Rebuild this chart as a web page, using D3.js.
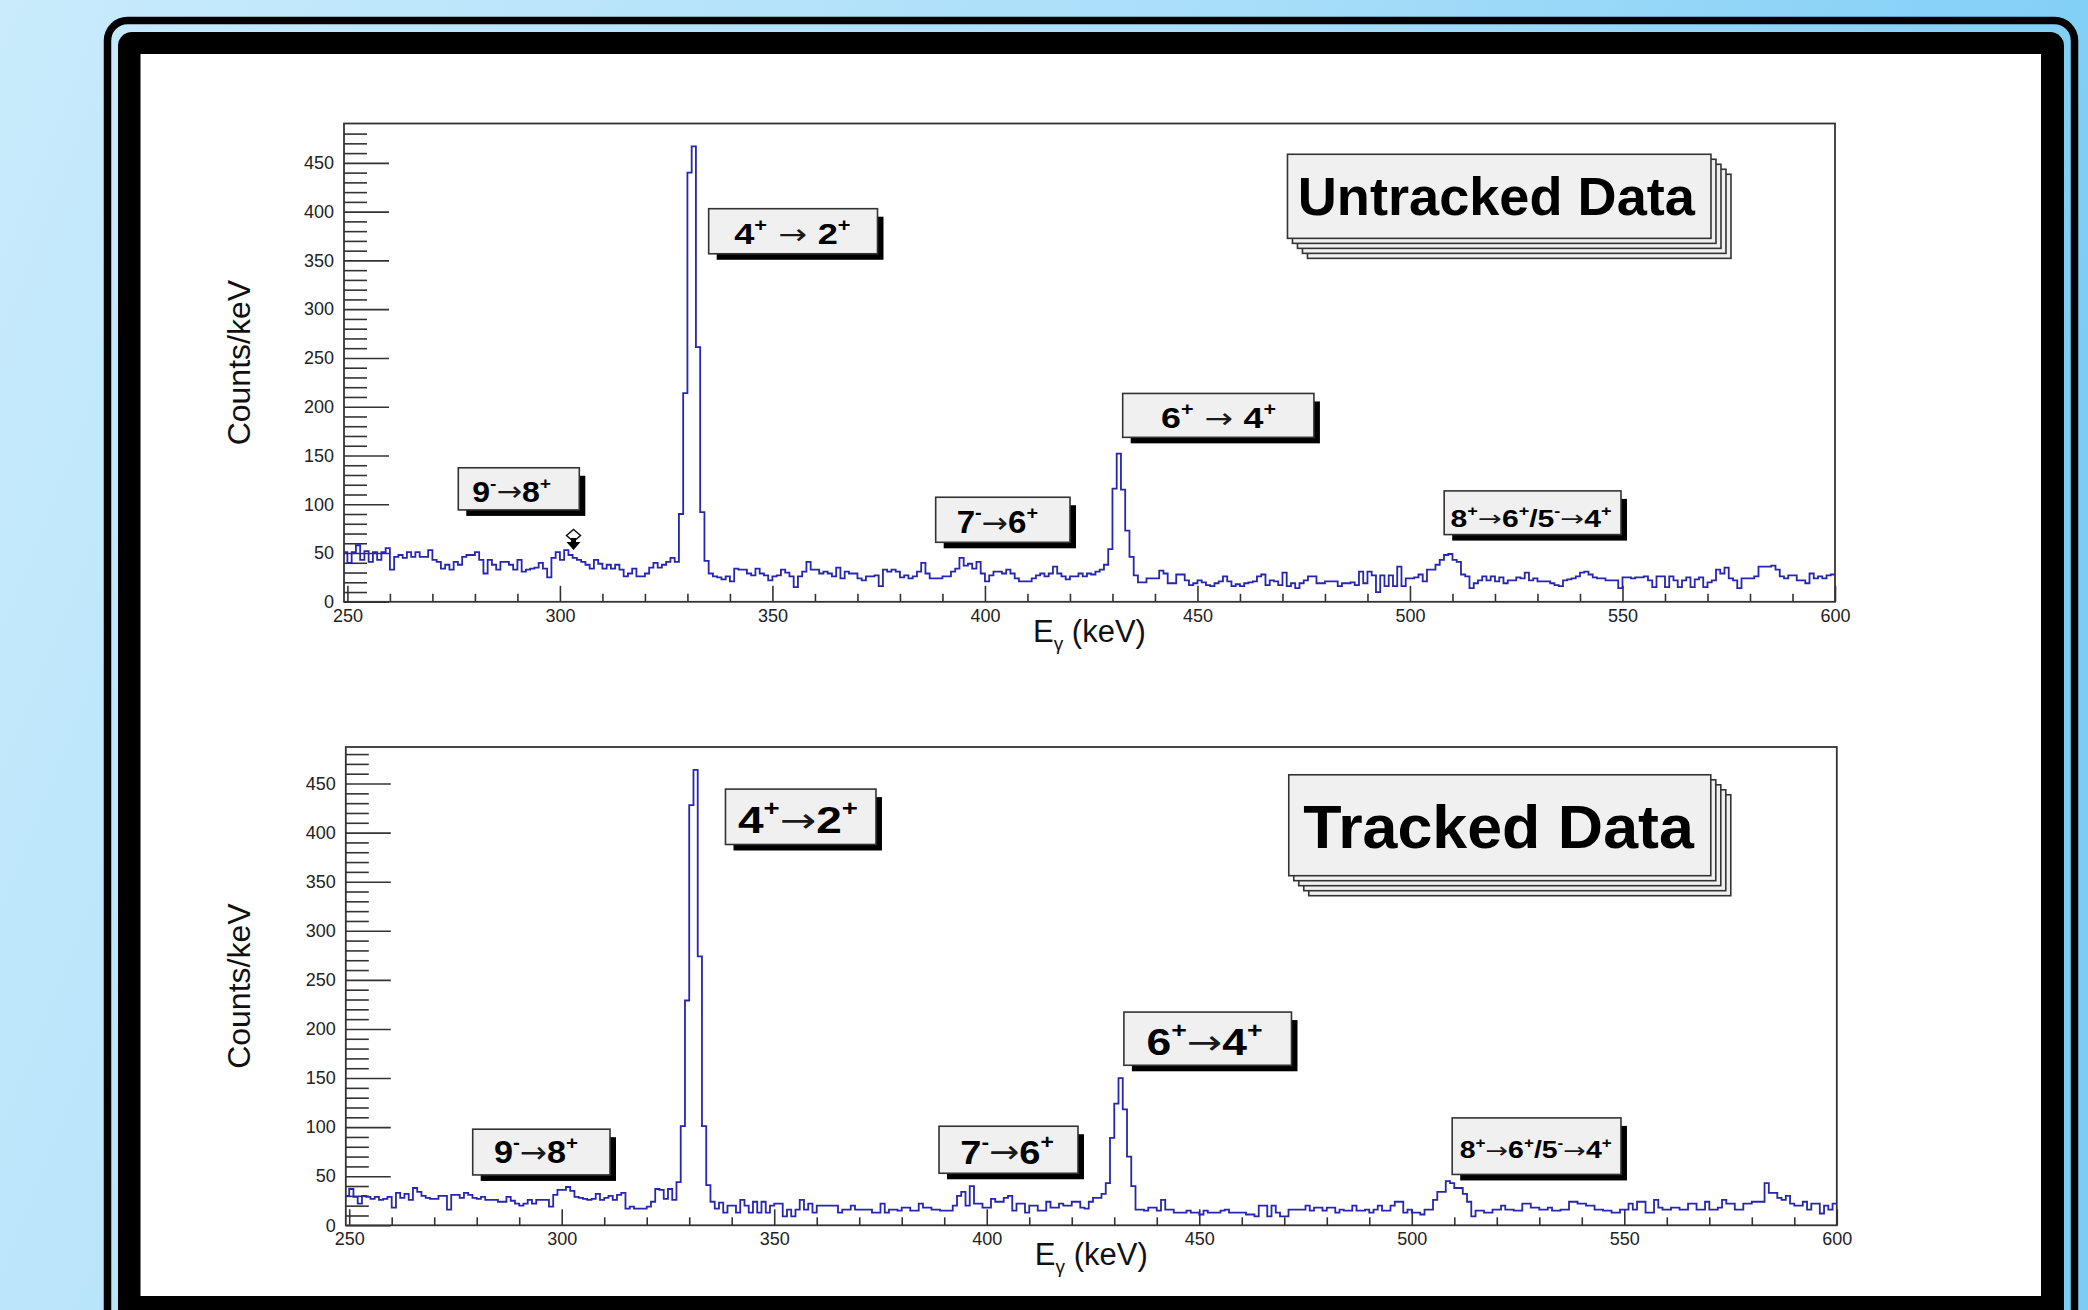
<!DOCTYPE html>
<html><head><meta charset="utf-8">
<script src="https://cdn.jsdelivr.net/npm/d3@7"></script>
<style>html,body{margin:0;padding:0;overflow:hidden;background:#fff}</style>
</head><body>
<svg id="c" width="2088" height="1310"></svg>
<script>
// ---------- DATA ----------
const binStart = 249;           // first bin covers [249,250) keV, bins are 1 keV wide
const xMin = 249.2, xMax = 600;
const untracked = [
51,40,51,58,43,52,41,51,43,51,
55,33,46,48,45,51,46,51,46,46,
53,43,41,34,38,33,41,38,46,48,
48,51,43,29,43,38,33,41,41,38,
33,43,31,33,34,35,40,34,25,45,
51,43,53,48,45,43,41,38,34,43,
39,34,38,34,38,33,26,29,34,26,
26,29,35,40,35,38,41,45,41,90,
214,440,467,261,92,42,29,26,25,23,
26,21,34,33,33,29,27,34,29,27,
22,26,27,33,30,26,15,26,31,41,
33,33,29,31,29,26,35,24,31,29,
29,24,22,26,26,27,16,33,31,33,
31,25,27,24,26,31,40,29,24,24,
24,26,26,31,34,45,37,39,34,41,
29,21,27,31,31,29,33,29,24,21,
21,21,24,27,29,26,29,36,29,26,
23,26,26,29,26,29,28,31,33,38,
54,116,152,115,73,46,27,20,20,24,
24,24,32,29,19,19,28,28,22,17,
19,22,20,17,16,19,21,26,21,16,
18,16,19,20,21,26,28,17,22,21,
17,30,16,19,14,19,22,26,26,19,
19,21,21,21,16,19,19,20,17,31,
19,31,27,10,27,16,27,16,36,16,
24,24,25,28,21,33,33,38,43,48,
49,43,41,28,26,14,19,22,26,22,
26,21,25,19,22,22,25,24,30,22,
24,21,21,21,19,17,16,22,23,24,
26,30,31,28,25,24,24,22,22,22,
14,25,25,24,25,25,26,22,15,26,
26,15,26,22,15,22,25,15,23,25,
15,20,22,33,29,35,24,22,14,24,
24,24,26,36,36,36,37,33,26,24,
27,27,22,22,19,29,24,26,24,27,28];
const tracked = [
30,37,29,22,30,29,27,29,26,27,
29,18,33,28,32,26,38,34,30,28,
27,27,30,30,16,31,31,28,33,31,
28,27,29,26,26,26,24,24,29,25,
22,20,22,26,22,26,26,26,19,31,
36,36,39,35,29,28,27,26,27,32,
26,28,30,26,31,33,17,19,17,17,
17,19,24,37,36,27,37,26,44,101,
229,428,464,274,101,41,24,17,23,13,
20,20,13,26,20,13,24,13,24,13,
20,22,22,9,16,9,16,26,16,22,
13,20,20,20,20,20,13,16,16,20,
16,16,16,16,13,13,22,13,16,16,
15,18,18,15,15,22,18,18,16,16,
15,15,15,20,30,34,20,40,22,22,
18,18,27,24,24,28,30,15,22,22,
13,20,20,15,15,24,18,18,22,20,
20,24,24,18,17,24,28,28,32,43,
89,124,150,118,70,40,16,16,15,18,
18,15,26,16,16,13,13,13,15,13,
13,11,15,13,13,13,15,16,13,13,
13,13,11,11,9,20,20,9,20,13,
9,9,16,16,16,16,20,15,18,18,
15,18,18,13,16,15,15,20,15,15,
16,13,16,20,15,15,20,24,24,13,
16,13,13,11,16,16,26,34,34,45,
43,38,38,32,24,9,15,15,13,13,
16,16,20,16,16,15,15,22,22,18,
18,16,16,18,15,15,16,16,24,24,
22,22,20,20,16,16,15,15,13,13,
16,16,22,16,24,24,13,13,26,18,
16,16,18,18,16,16,22,22,16,16,
24,16,16,18,26,22,22,16,16,22,
22,24,24,24,43,33,33,28,26,30,
22,20,20,24,16,22,22,12,20,16,22];
const xMajorTicks = [250,300,350,400,450,500,550,600];
const yMajorTicks = [0,50,100,150,200,250,300,350,400,450];
const yTitle = "Counts/keV";
const xTitleMain = "E", xTitleSub = "γ", xTitleRest = " (keV)";
const titleTop = "Untracked Data";
const titleBottom = "Tracked Data";
// annotation labels (ROOT TLatex-like parts: d = digit text, sup = superscript, arr = arrow)
const labelTextsTop = [
  [['9','d'],['-','sup'],['→','arr'],['8','d'],['+','sup']],
  [['4','d'],['+','sup'],[' → ','arr'],['2','d'],['+','sup']],
  [['7','d'],['-','sup'],['→','arr'],['6','d'],['+','sup']],
  [['6','d'],['+','sup'],[' → ','arr'],['4','d'],['+','sup']],
  [['8','d'],['+','sup'],['→','arr'],['6','d'],['+','sup'],['/5','d'],['-','sup'],['→','arr'],['4','d'],['+','sup']]
];
const labelTextsBottom = [
  [['9','d'],['-','sup'],['→','arr'],['8','d'],['+','sup']],
  [['4','d'],['+','sup'],['→','arr'],['2','d'],['+','sup']],
  [['7','d'],['-','sup'],['→','arr'],['6','d'],['+','sup']],
  [['6','d'],['+','sup'],['→','arr'],['4','d'],['+','sup']],
  [['8','d'],['+','sup'],['→','arr'],['6','d'],['+','sup'],['/5','d'],['-','sup'],['→','arr'],['4','d'],['+','sup']]
];
const markerEnergy = 303;

// ---------- LAYOUT (user coordinates of annotation boxes) ----------
const layoutTop = {left:344, right:1835, top:123.5, bottom:601.8,
  boxes:[
    {box:[276.09,304.56,94.2,137.4], txt:[279.39,297.9,102.7], size:29},
    {box:[335.0,374.72,356.8,403.0], txt:[341.0,368.37,366.5], size:30},
    {box:[388.41,420.01,61.0,107.2], txt:[393.35,412.48,70.3], size:31},
    {box:[432.41,477.4,168.6,213.6], txt:[441.42,468.47,177.7], size:30},
    {box:[508.05,549.65,68.9,113.7], txt:[509.56,547.46,77.0], size:23}
  ],
  title:{box:[471.18,570.82,372.6,458.8], txt:[473.6,567.05,396.8], size:53}
};
const layoutBottom = {left:345.8, right:1836.8, top:747, bottom:1225.3,
  boxes:[
    {box:[279.06,311.36,51.3,97.9], txt:[284.07,303.84,63.2], size:32},
    {box:[338.53,373.94,387.9,444.3], txt:[341.47,369.7,400.1], size:36},
    {box:[388.77,421.47,53.0,100.9], txt:[393.77,415.77,62.5], size:34},
    {box:[432.27,471.7,163.0,217.2], txt:[437.6,464.9,173.9], size:36},
    {box:[509.51,549.22,51.8,109.4], txt:[511.27,547.05,68.3], size:23}
  ],
  title:{box:[471.06,570.35,356.1,458.9], txt:[474.5,566.35,384.7], size:61}
};

// ---------- DRAW ----------
const W = 2088, H = 1310;
const FONT = "'Liberation Sans', Arial, Helvetica, sans-serif";
const svg = d3.select('#c');
const defs = svg.append('defs');
const grad = defs.append('linearGradient').attr('id','bg')
  .attr('x1','0').attr('y1','0').attr('x2','1').attr('y2','0.25');
grad.append('stop').attr('offset','0').attr('stop-color','#c9ebfc');
grad.append('stop').attr('offset','0.55').attr('stop-color','#a9def9');
grad.append('stop').attr('offset','1').attr('stop-color','#7ccdf6');
svg.append('rect').attr('width',W).attr('height',H).attr('fill','url(#bg)');
svg.append('rect').attr('x',107.5).attr('y',20.5).attr('width',1967).attr('height',1400)
  .attr('rx',20).attr('fill','none').attr('stroke','#000').attr('stroke-width',7.5);
svg.append('rect').attr('x',118).attr('y',32).attr('width',1946).attr('height',1400)
  .attr('rx',14).attr('fill','#000');
svg.append('rect').attr('x',140.5).attr('y',54).attr('width',1900.5).attr('height',1242).attr('fill','#fff');

function drawLabel(g, x, y, spec, parts, isTitle) {
  const [bx0,bx1,by0,by1] = spec.box;
  const X0 = x(bx0), X1 = x(bx1), Y0 = y(by1), Y1 = y(by0);
  if (isTitle) {
    for (let k = 4; k >= 1; k--) {
      g.append('rect').attr('x',X0+5*k).attr('y',Y0+5*k).attr('width',X1-X0).attr('height',Y1-Y0)
        .attr('fill','#f0f0f0').attr('stroke','#333').attr('stroke-width',1.6);
    }
  } else {
    g.append('rect').attr('x',X0+8).attr('y',Y0+8).attr('width',X1-X0-2).attr('height',Y1-Y0-2)
      .attr('fill','#000');
  }
  g.append('rect').attr('x',X0).attr('y',Y0).attr('width',X1-X0).attr('height',Y1-Y0)
    .attr('fill','#f0f0f0').attr('stroke','#333').attr('stroke-width',1.6);
  const [t0,t1,tb] = spec.txt;
  const s = spec.size;
  const t = g.append('text').attr('x',x(t0)).attr('y',y(tb))
    .attr('font-family',FONT).attr('font-weight','bold').attr('font-size',s)
    .attr('fill','#000').attr('textLength',x(t1)-x(t0)).attr('lengthAdjust','spacingAndGlyphs')
    .style('white-space','pre');
  if (isTitle) { t.text(parts); return; }
  let shift = 0;
  parts.forEach(([str,kind]) => {
    const ts = t.append('tspan').text(str);
    let target = 0;
    if (kind === 'sup') {
      ts.attr('font-size',s*0.6);
      target = -0.45*s;
    } else if (kind === 'arr') {
      ts.attr('font-family',"'DejaVu Sans', sans-serif").attr('font-weight','normal')
        .attr('font-size',s*0.95).attr('fill','#1a1a1a');
      target = -0.02*s;
    }
    if (target !== shift) { ts.attr('dy', target - shift); shift = target; }
  });
}

function drawPanel(data, L, labelParts, title, withMarker, clipId) {
  const x = d3.scaleLinear().domain([xMin,xMax]).range([L.left,L.right]);
  const y = d3.scaleLinear().domain([0, d3.max(data)*1.05]).range([L.bottom,L.top]);
  const g = svg.append('g');
  defs.append('clipPath').attr('id',clipId).append('rect')
    .attr('x',L.left).attr('y',L.top).attr('width',L.right-L.left).attr('height',L.bottom-L.top);

  const yMinor = d3.range(10, y.domain()[1]-5, 10).filter(v => v % 50 !== 0);
  const yaxMinor = g.append('g').attr('transform',`translate(${L.left},0)`)
    .call(d3.axisLeft(y).tickValues(yMinor).tickSize(-23).tickSizeOuter(0).tickFormat(''));
  const yax = g.append('g').attr('transform',`translate(${L.left},0)`)
    .call(d3.axisLeft(y).tickValues(yMajorTicks).tickSize(-45).tickSizeOuter(0).tickPadding(10));
  const xaxMinor = g.append('g').attr('transform',`translate(0,${L.bottom})`)
    .call(d3.axisBottom(x).tickValues(d3.range(260,600,10).filter(v => v % 50 !== 0))
      .tickSize(-8).tickSizeOuter(0).tickFormat(''));
  const xax = g.append('g').attr('transform',`translate(0,${L.bottom})`)
    .call(d3.axisBottom(x).tickValues(xMajorTicks).tickSize(-16).tickSizeOuter(0).tickPadding(7));
  [yaxMinor,yax,xaxMinor,xax].forEach(a => {
    a.select('.domain').remove();
    a.selectAll('line').attr('stroke','#333').attr('stroke-width',1.6);
    a.selectAll('text').attr('font-family',FONT).attr('font-size',18).attr('fill','#222');
  });

  g.append('rect').attr('x',L.left).attr('y',L.top).attr('width',L.right-L.left)
    .attr('height',L.bottom-L.top).attr('fill','none').attr('stroke','#333').attr('stroke-width',1.8);

  const pts = data.map((v,i) => [Math.max(binStart+i, xMin), v]);
  pts.push([xMax, data[data.length-1]]);
  const line = d3.line().x(d => x(d[0])).y(d => y(d[1])).curve(d3.curveStepAfter);
  g.append('path').attr('d',line(pts)).attr('fill','none').attr('stroke','#2626b2')
    .attr('stroke-width',1.8).attr('clip-path',`url(#${clipId})`);

  g.append('text').attr('transform',`translate(238,${(L.top+L.bottom)/2}) rotate(-90)`)
    .attr('text-anchor','middle').attr('dy','0.36em')
    .attr('font-family',FONT).attr('font-size',32).attr('fill','#111').text(yTitle);
  const xt = g.append('text').attr('x',(L.left+L.right)/2).attr('y',L.bottom+40)
    .attr('text-anchor','middle').attr('font-family',FONT).attr('font-size',31).attr('fill','#111');
  xt.append('tspan').text(xTitleMain);
  xt.append('tspan').attr('font-size',19).attr('dy',8).text(xTitleSub);
  xt.append('tspan').attr('dy',-8).style('white-space','pre').text(xTitleRest);

  L.boxes.forEach((spec,i) => drawLabel(g, x, y, spec, labelParts[i], false));
  drawLabel(g, x, y, L.title, title, true);

  if (withMarker) {
    const cx = x(markerEnergy + 0.2);
    const cy = y(68);
    g.append('path').attr('d',`M${cx},${cy-6}L${cx+7},${cy}L${cx},${cy+6}L${cx-7},${cy}Z`)
      .attr('fill','#fff').attr('stroke','#111').attr('stroke-width',1.5);
    const a0 = y(65.5), a1 = y(53);
    g.append('path').attr('d',`M${cx-2.5},${a0}L${cx+2.5},${a0}L${cx+2.5},${a0+4}L${cx+7},${a0+4}L${cx},${a1}L${cx-7},${a0+4}L${cx-2.5},${a0+4}Z`)
      .attr('fill','#000');
  }
}

drawPanel(untracked, layoutTop, labelTextsTop, titleTop, true, 'clipTop');
drawPanel(tracked, layoutBottom, labelTextsBottom, titleBottom, false, 'clipBottom');
</script>
</body></html>
